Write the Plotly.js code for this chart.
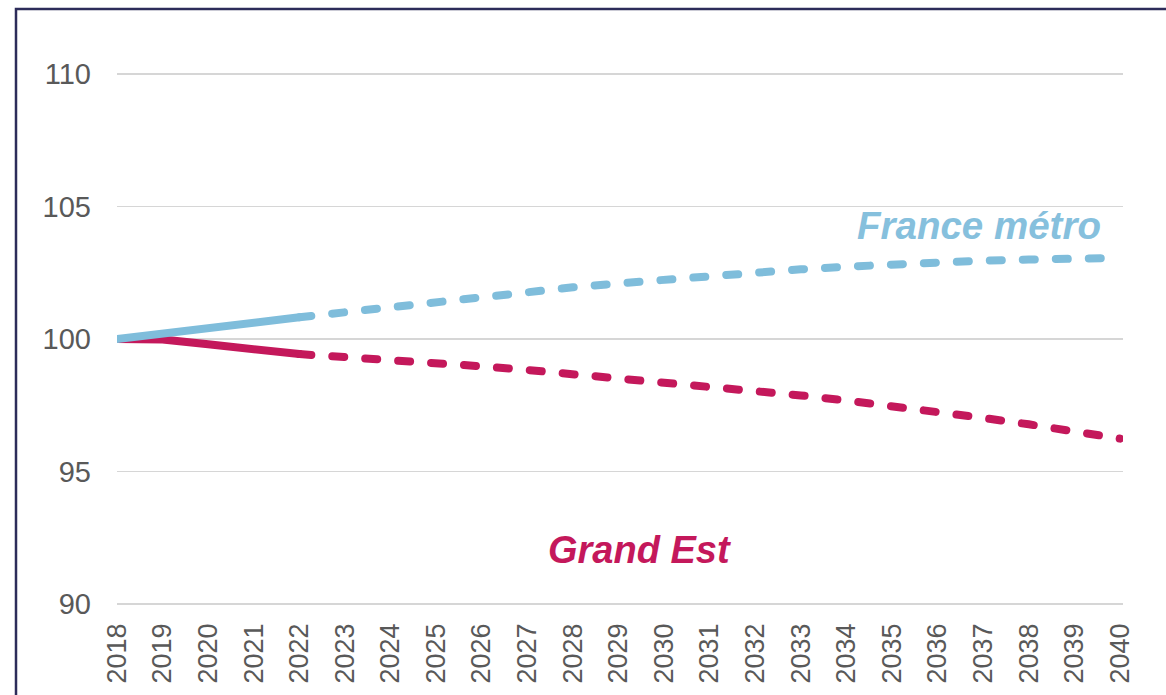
<!DOCTYPE html>
<html>
<head>
<meta charset="utf-8">
<script src="https://cdn.plot.ly/plotly-3.0.1.min.js"></script>
<style>
html, body { margin: 0; padding: 0; background: #fff; }
#chart { width: 1166px; height: 695px; }
.scatterlayer .js-line { stroke-linecap: round; stroke-linejoin: round; }
</style>
</head>
<body>
<div id="chart"></div>
<script>
// Years (category axis)
const years = [2018, 2019, 2020, 2021, 2022, 2023, 2024, 2025, 2026, 2027, 2028, 2029,
               2030, 2031, 2032, 2033, 2034, 2035, 2036, 2037, 2038, 2039, 2040];
const yearLabels = years.map(String);
// Last observed year (solid); projections are dashed afterwards
const splitYear = 2022;

// Base 100 in 2018
const franceMetro = [100.0, 100.2, 100.4, 100.62, 100.82, 101.02, 101.22, 101.42, 101.6, 101.78,
                     101.95, 102.1, 102.25, 102.4, 102.52, 102.63, 102.73, 102.82, 102.9, 102.96,
                     103.0, 103.03, 103.06];
const grandEst = [100.0, 99.98, 99.8, 99.62, 99.43, 99.33, 99.23, 99.1, 98.97, 98.83,
                  98.68, 98.53, 98.38, 98.22, 98.05, 97.87, 97.68, 97.48, 97.26, 97.02,
                  96.78, 96.52, 96.24];

const yTicks = [90, 95, 100, 105, 110];
const yTickLabels = ["90", "95", "100", "105", "110"];

const seriesNames = ["Grand Est", "France métro"];
const labelPos = { "France métro": [2036.9, 104.3], "Grand Est": [2029.47, 92.05] };

const blue = "#7fbddb";
const red = "#c4185b";

const k = years.indexOf(splitYear);
function part(arr, solid) { return solid ? arr.slice(0, k + 1) : arr.slice(k); }

const traces = [];
[[grandEst, red], [franceMetro, blue]].forEach(([vals, col], i) => {
  traces.push({
    x: part(years, true), y: part(vals, true), type: "scatter", mode: "lines",
    name: seriesNames[i], line: { color: col, width: 8 }, hoverinfo: "skip", showlegend: false
  });
  traces.push({
    x: part(years, false), y: part(vals, false), type: "scatter", mode: "lines",
    name: seriesNames[i], line: { color: col, width: 8, dash: "12px,21px" }, hoverinfo: "skip", showlegend: false
  });
});

const layout = {
  width: 1166, height: 695,
  margin: { l: 117, r: 43, t: 73, b: 90 },
  paper_bgcolor: "#ffffff", plot_bgcolor: "#ffffff",
  showlegend: false,
  font: { family: "Liberation Sans, Arial, sans-serif", color: "#595959" },
  xaxis: {
    range: [2018, 2040.066], tickmode: "array", tickvals: years, ticktext: yearLabels,
    tickangle: -90, showgrid: false, zeroline: false, showline: false, ticks: "",
    tickfont: { size: 27, color: "#595959", family: "Liberation Sans, Arial, sans-serif" },
    ticklabelstandoff: 12, fixedrange: true
  },
  yaxis: {
    range: [89.96, 110.04], tickmode: "array", tickvals: yTicks, ticktext: yTickLabels,
    showgrid: true, gridcolor: "#d6d6d6", gridwidth: 1.5, zeroline: false, showline: false, ticks: "",
    tickfont: { size: 29, color: "#595959", family: "Liberation Sans, Arial, sans-serif" },
    ticklabelstandoff: 25, fixedrange: true
  },
  annotations: seriesNames.map((n, i) => ({
    x: labelPos[n][0], y: labelPos[n][1], xref: "x", yref: "y", text: n, showarrow: false,
    xanchor: "center", yanchor: "middle",
    font: { size: i === 0 ? 38 : 38.5, color: i === 0 ? red : "#86c0dd",
            family: "Liberation Sans, Arial, sans-serif", weight: "bold", style: "italic" }
  })),
  shapes: [{
    type: "rect", xref: "paper", yref: "paper",
    x0: (16 - 117) / 1006, x1: 1.2, y0: -0.4, y1: 1 + (73 - 9) / 532,
    line: { color: "#2d2c5a", width: 2.5 }, fillcolor: "rgba(0,0,0,0)", layer: "above"
  }]
};

Plotly.newPlot("chart", traces, layout, { staticPlot: true, displayModeBar: false });
</script>
</body>
</html>
